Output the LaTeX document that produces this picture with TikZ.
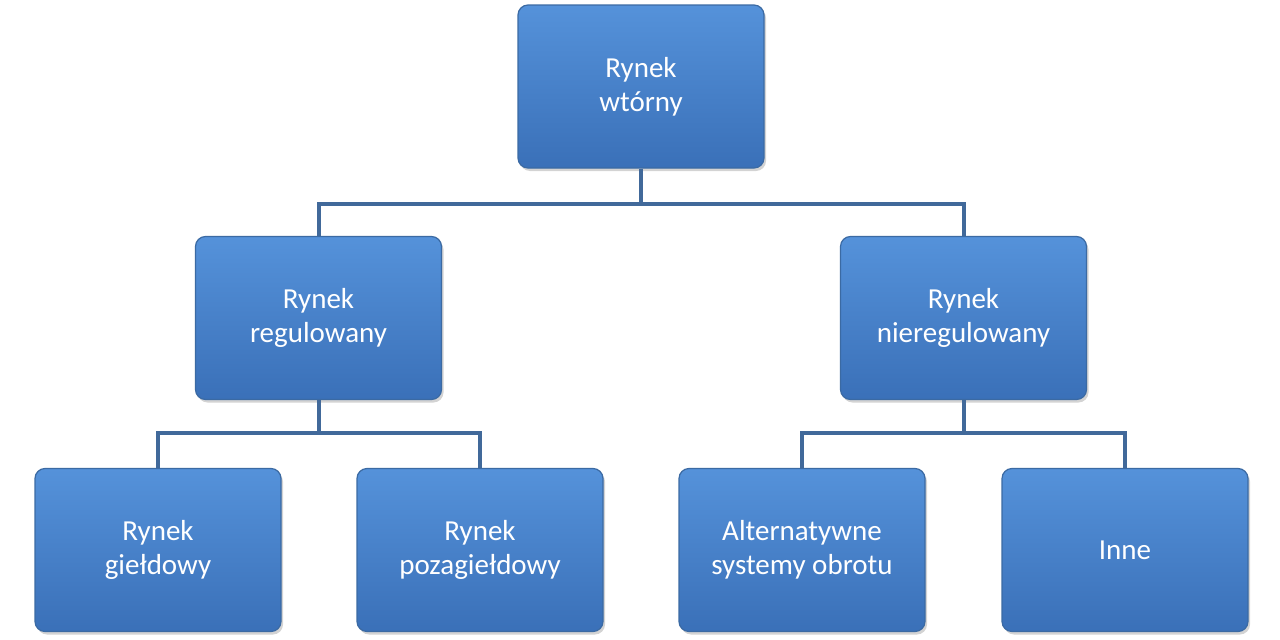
\documentclass[tikz,border=0pt]{standalone}
\usepackage{fontspec}
\setmainfont{Carlito}
\usetikzlibrary{shadows}
\definecolor{boxtop}{HTML}{5592DA}
\definecolor{boxbot}{HTML}{3A70B8}
\definecolor{boxline}{HTML}{3B6AA3}
\definecolor{conn}{HTML}{41699A}
\begin{document}
\begin{tikzpicture}[x=1pt,y=-1pt,
  box/.style={draw=boxline,line width=1.2pt,rounded corners=10pt,top color=boxtop,bottom color=boxbot,
    minimum width=246pt,minimum height=163pt,text=white,align=center,font=\fontsize{29}{34}\selectfont,
    drop shadow={shadow xshift=2pt,shadow yshift=-3pt,opacity=0.35}},
  conn/.style={draw=conn,line width=4pt}]
\useasboundingbox (0,0) rectangle (1280,640);
\node[box] (a) at (641,86.5) {Rynek\\wtórny};
\node[box] (b) at (318.5,318) {Rynek\\regulowany};
\node[box] (c) at (963.5,318) {Rynek\\nieregulowany};
\node[box] (d) at (158,550) {Rynek\\giełdowy};
\node[box] (e) at (480,550) {Rynek\\pozagiełdowy};
\node[box] (f) at (802,550) {Alternatywne\\systemy obrotu};
\node[box] (g) at (1125,550) {Inne};
\draw[conn] (a.south) -- ++(0,35) -| (b.north);
\draw[conn] (a.south) ++(0,35) -| (c.north);
\draw[conn] (b.south) -- ++(0,33) -| (d.north);
\draw[conn] (b.south) ++(0,33) -| (e.north);
\draw[conn] (c.south) -- ++(0,33) -| (f.north);
\draw[conn] (c.south) ++(0,33) -| (g.north);
\end{tikzpicture}
\end{document}
